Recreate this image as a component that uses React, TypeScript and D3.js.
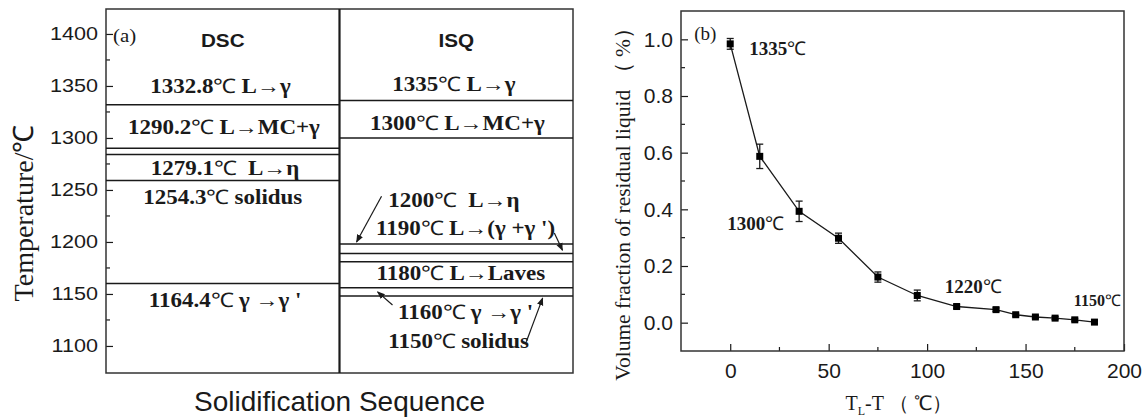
import React, { useEffect, useRef } from 'react';
import * as d3 from 'd3';

// ---- panel (a): solidification sequence ----
const columns = ['DSC', 'ISQ'];
const tempTicks = [1100, 1150, 1200, 1250, 1300, 1350, 1400];
const tempMinorTicks = [1125, 1175, 1225, 1275, 1325, 1375];
// horizontal lines of each sequence (temperature)
const dscLines = [1332, 1290, 1284, 1259, 1160];
const isqLines = [1336, 1300, 1198, 1189, 1181, 1156, 1148];
// label text, temperature at text centre, relative x within column
const dscLabels = [
  { text: '1332.8℃ L→γ', t: 1349, f: 0.49 },
  { text: '1290.2℃ L→MC+γ', t: 1310.5, f: 0.505 },
  { text: '1279.1℃  L→η', t: 1271, f: 0.51 },
  { text: '1254.3℃ solidus', t: 1243, f: 0.5 },
  { text: '1164.4℃ γ →γ \'', t: 1144, f: 0.51 },
];
const isqLabels = [
  { text: '1335℃ L→γ', t: 1351, f: 0.49 },
  { text: '1300℃ L→MC+γ', t: 1314, f: 0.505 },
  { text: '1200℃  L→η', t: 1240, f: 0.49 },
  { text: '1190℃ L→(γ +γ \')', t: 1212.5, f: 0.54 },
  { text: '1180℃ L→Laves', t: 1170, f: 0.52 },
  { text: '1160℃ γ →γ \'', t: 1132, f: 0.54 },
  { text: '1150℃ solidus', t: 1104, f: 0.51 },
];
// arrows in ISQ column: [f0, t0] -> [f1, t1]
const isqArrows = [
  [0.18, 1244, 0.073, 1200],
  [0.92, 1208.7, 0.955, 1192],
  [0.227, 1139.4, 0.163, 1152],
  [0.8, 1104, 0.87, 1146],
];

// ---- panel (b): residual liquid ----
const undercooling = [0, 15, 35, 55, 75, 95, 115, 135, 145, 155, 165, 175, 185];
const residual = [0.984, 0.587, 0.393, 0.298, 0.161, 0.096, 0.057, 0.046, 0.028, 0.02, 0.016, 0.01, 0.002];
const residualErr = [0.019, 0.043, 0.036, 0.018, 0.018, 0.019, 0.006, 0.006, 0.005, 0.005, 0.005, 0.005, 0.005];
const xTicksB = [0, 50, 100, 150, 200];
const xMinorB = [25, 75, 125, 175];
const yTicksB = [0, 0.2, 0.4, 0.6, 0.8, 1.0];
const yMinorB = [0.1, 0.3, 0.5, 0.7, 0.9];
const pointNotes = [
  { text: '1335℃', x: 9.7, y: 0.971, size: 19 },
  { text: '1300℃', x: -1.5, y: 0.351, size: 19 },
  { text: '1220℃', x: 108.9, y: 0.128, size: 19 },
  { text: '1150℃', x: 174.5, y: 0.079, size: 16 },
];

const W = 1145;
const H = 419;
const SANS = "Arial, 'Liberation Sans', sans-serif";
const SERIF = "'Times New Roman', 'Liberation Serif', serif";
const INK = '#1a1a1a';

// writes a label, with the ℃ sign in normal weight like the source
const fillLabel = (sel, str) => {
  str.split(/(℃)/).forEach(part => {
    if (!part) return;
    const ts = sel.append('tspan').text(part);
    if (part === '℃') ts.attr('font-weight', 'normal');
  });
};

const App = () => {
  const svgRef = useRef<SVGSVGElement>(null);

  useEffect(() => {
    const svg = d3.select(svgRef.current);
    svg.selectAll('*').remove();

    svg.append('defs').append('marker')
      .attr('id', 'arrowhead')
      .attr('viewBox', '0 0 10 10')
      .attr('refX', 9).attr('refY', 5)
      .attr('markerWidth', 8).attr('markerHeight', 8)
      .attr('markerUnits', 'userSpaceOnUse')
      .attr('orient', 'auto')
      .append('path').attr('d', 'M0,1 L10,5 L0,9 Z').attr('fill', INK);

    // text stretched horizontally like the source image
    const stretch = (g, x, y, s) => g.attr('transform', `translate(${x},${y}) scale(${s},1)`);

    // ================= panel (a) =================
    const yA = d3.scaleLinear().domain([1074, 1424]).range([373, 9]);
    const xA = d3.scaleBand().domain(columns).range([106, 573]);
    const fx = (col, f) => xA(col) + f * xA.bandwidth();
    const gA = svg.append('g');

    const axisA = d3.axisLeft(yA).tickValues(tempTicks).tickFormat(d3.format('d'))
      .tickSize(-7).tickPadding(8).tickSizeOuter(0);
    const ax = gA.append('g').attr('transform', `translate(${xA.range()[0]},0)`).call(axisA);
    ax.select('.domain').remove();
    ax.selectAll('line').attr('stroke', INK).attr('stroke-width', 1.2);
    ax.selectAll('text').attr('font-family', SANS).attr('font-size', 18).attr('fill', INK)
      .attr('text-anchor', 'end')
      .each(function () {
        const t = d3.select(this);
        t.attr('transform', 'translate(-8,0) scale(1.2,1)').attr('x', 0);
      });
    gA.selectAll('.minorA').data(tempMinorTicks).join('line')
      .attr('x1', xA.range()[0]).attr('x2', xA.range()[0] + 4)
      .attr('y1', d => yA(d)).attr('y2', d => yA(d))
      .attr('stroke', INK).attr('stroke-width', 1.2);

    gA.append('rect')
      .attr('x', xA.range()[0]).attr('y', yA.range()[1])
      .attr('width', xA.range()[1] - xA.range()[0]).attr('height', yA.range()[0] - yA.range()[1])
      .attr('fill', 'none').attr('stroke', '#333').attr('stroke-width', 1.5);
    gA.append('line')
      .attr('x1', xA('ISQ')).attr('x2', xA('ISQ'))
      .attr('y1', yA.range()[1]).attr('y2', yA.range()[0])
      .attr('stroke', INK).attr('stroke-width', 2.2);

    const lineSets = { DSC: dscLines, ISQ: isqLines };
    const labelSets = { DSC: dscLabels, ISQ: isqLabels };
    columns.forEach(col => {
      gA.selectAll(`.line-${col}`).data(lineSets[col]).join('line')
        .attr('x1', fx(col, 0)).attr('x2', fx(col, 1))
        .attr('y1', d => yA(d)).attr('y2', d => yA(d))
        .attr('stroke', INK).attr('stroke-width', 1.5);

      gA.append('text').text(col)
        .call(stretch, fx(col, 0.5), yA(1394), 1.15)
        .attr('text-anchor', 'middle').attr('dominant-baseline', 'central')
        .attr('font-family', SANS).attr('font-weight', 'bold').attr('font-size', 18).attr('fill', INK);

      labelSets[col].forEach(l => {
        gA.append('text')
          .call(stretch, fx(col, l.f), yA(l.t), 1.15)
          .attr('text-anchor', 'middle').attr('dominant-baseline', 'central')
          .style('white-space', 'pre')
          .attr('font-family', SERIF).attr('font-weight', 'bold').attr('font-size', 20).attr('fill', INK)
          .call(fillLabel, l.text);
      });
    });

    gA.selectAll('.arrow').data(isqArrows).join('line')
      .attr('x1', d => fx('ISQ', d[0])).attr('y1', d => yA(d[1]))
      .attr('x2', d => fx('ISQ', d[2])).attr('y2', d => yA(d[3]))
      .attr('stroke', INK).attr('stroke-width', 1.2)
      .attr('marker-end', 'url(#arrowhead)');

    gA.append('text').text('(a)')
      .call(stretch, fx('DSC', 0.08), yA(1399), 1.1)
      .attr('text-anchor', 'middle').attr('dominant-baseline', 'central')
      .attr('font-family', SERIF).attr('font-size', 19).attr('fill', INK);

    gA.append('text').text('Temperature/℃')
      .attr('transform', `translate(33,${(yA.range()[0] + yA.range()[1]) / 2 + 22}) rotate(-90)`)
      .attr('text-anchor', 'middle')
      .attr('font-family', SERIF).attr('font-size', 28).attr('fill', INK);

    gA.append('text').text('Solidification Sequence')
      .attr('x', (xA.range()[0] + xA.range()[1]) / 2).attr('y', 411)
      .attr('text-anchor', 'middle')
      .attr('font-family', SANS).attr('font-size', 28).attr('fill', INK);

    // ================= panel (b) =================
    const xB = d3.scaleLinear().domain([-25, 200]).range([681, 1124]);
    const yB = d3.scaleLinear().domain([-0.1, 1.1]).range([351, 11]);
    const gB = svg.append('g');

    const yAxisB = d3.axisLeft(yB).tickValues(yTicksB).tickFormat(d3.format('.1f'))
      .tickSize(-7).tickPadding(8).tickSizeOuter(0);
    const ayB = gB.append('g').attr('transform', `translate(${xB.range()[0]},0)`).call(yAxisB);
    const xAxisB = d3.axisBottom(xB).tickValues(xTicksB).tickFormat(d3.format('d'))
      .tickSize(-7).tickPadding(12).tickSizeOuter(0);
    const axB = gB.append('g').attr('transform', `translate(0,${yB.range()[0]})`).call(xAxisB);
    [ayB, axB].forEach(a => {
      a.select('.domain').remove();
      a.selectAll('line').attr('stroke', INK).attr('stroke-width', 1.2);
      a.selectAll('text').attr('font-family', SANS).attr('font-size', 21).attr('fill', INK);
    });
    gB.selectAll('.minorYB').data(yMinorB).join('line')
      .attr('x1', xB.range()[0]).attr('x2', xB.range()[0] + 4)
      .attr('y1', d => yB(d)).attr('y2', d => yB(d))
      .attr('stroke', INK).attr('stroke-width', 1.2);
    gB.selectAll('.minorXB').data(xMinorB).join('line')
      .attr('x1', d => xB(d)).attr('x2', d => xB(d))
      .attr('y1', yB.range()[0]).attr('y2', yB.range()[0] - 4)
      .attr('stroke', INK).attr('stroke-width', 1.2);

    gB.append('rect')
      .attr('x', xB.range()[0]).attr('y', yB.range()[1])
      .attr('width', xB.range()[1] - xB.range()[0]).attr('height', yB.range()[0] - yB.range()[1])
      .attr('fill', 'none').attr('stroke', '#333').attr('stroke-width', 1.5);

    const pts = undercooling.map((x, i) => ({ x, y: residual[i], e: residualErr[i] }));
    gB.append('path').datum(pts)
      .attr('d', d3.line<any>().x(d => xB(d.x)).y(d => yB(d.y)))
      .attr('fill', 'none').attr('stroke', INK).attr('stroke-width', 1.3);

    const eb = gB.selectAll('.err').data(pts).join('g');
    eb.append('line')
      .attr('x1', d => xB(d.x)).attr('x2', d => xB(d.x))
      .attr('y1', d => yB(d.y - d.e)).attr('y2', d => yB(d.y + d.e))
      .attr('stroke', INK).attr('stroke-width', 1.3);
    [-1, 1].forEach(s => {
      eb.append('line')
        .attr('x1', d => xB(d.x) - 3.5).attr('x2', d => xB(d.x) + 3.5)
        .attr('y1', d => yB(d.y + s * d.e)).attr('y2', d => yB(d.y + s * d.e))
        .attr('stroke', INK).attr('stroke-width', 1.3);
    });
    gB.selectAll('.pt').data(pts).join('rect')
      .attr('x', d => xB(d.x) - 3.5).attr('y', d => yB(d.y) - 3.5)
      .attr('width', 7).attr('height', 7).attr('fill', '#000');

    pointNotes.forEach(n => {
      gB.append('text')
        .attr('x', xB(n.x)).attr('y', yB(n.y))
        .attr('dominant-baseline', 'central')
        .attr('font-family', SERIF).attr('font-weight', 'bold').attr('font-size', n.size).attr('fill', INK)
        .call(fillLabel, n.text);
    });

    gB.append('text').text('(b)')
      .attr('x', xB(-12.7)).attr('y', yB(1.02))
      .attr('text-anchor', 'middle').attr('dominant-baseline', 'central')
      .attr('font-family', SERIF).attr('font-size', 19).attr('fill', INK);

    gB.append('text').text('Volume fraction of residual liquid （ %）')
      .attr('transform', `translate(630,${(yB.range()[0] + yB.range()[1]) / 2 + 18}) rotate(-90)`)
      .attr('text-anchor', 'middle')
      .attr('font-family', SERIF).attr('font-size', 21.5).attr('fill', INK);

    const xl = gB.append('text')
      .attr('x', (xB.range()[0] + xB.range()[1]) / 2 - 4).attr('y', 410)
      .attr('text-anchor', 'middle')
      .attr('font-family', SERIF).attr('font-size', 20).attr('fill', INK);
    xl.append('tspan').text('T');
    xl.append('tspan').text('L').attr('font-size', 12).attr('dy', 5);
    xl.append('tspan').text('-T （ ℃）').attr('dy', -5);
  }, []);

  return (
    <svg ref={svgRef} width={W} height={H}
      style={{ position: 'absolute', left: 0, top: 0, background: '#fff' }} />
  );
};

export default App;
